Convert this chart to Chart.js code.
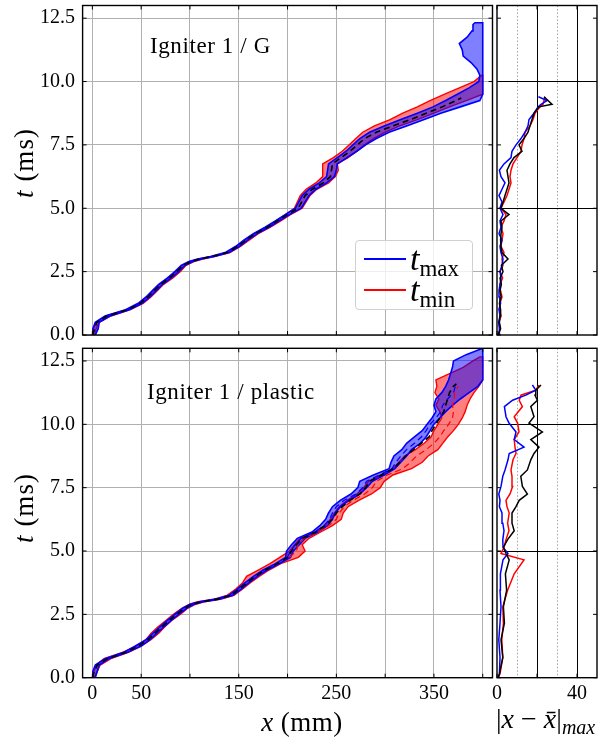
<!DOCTYPE html>
<html>
<head>
<meta charset="utf-8">
<script src="https://cdn.jsdelivr.net/npm/chart.js@4.4.1/dist/chart.umd.min.js"></script>
<style>
  body { margin: 0; background: #fff; }
  #fig { position: relative; width: 615px; height: 745px; overflow: hidden; font-family: "Liberation Serif", serif; color: #000; }
  #fig canvas { position: absolute; }
  .lbl { position: absolute; white-space: nowrap; }
  .note { font-size: 23px; line-height: 23px; letter-spacing: 0.6px; }
  .ylab { font-size: 27px; letter-spacing: 1px; transform: translate(-50%, -50%) rotate(-90deg); }
  .xlab { font-size: 27px; letter-spacing: 0.5px; transform: translate(-50%, -50%); }
  .devlab { font-size: 28px; transform: translate(0, -50%); }
  .devlab sub { font-size: 20px; font-style: italic; vertical-align: -6px; }
  .legend { position: absolute; left: 355px; top: 240px; width: 116px; height: 68px;
            border: 1px solid #d0d0d0; border-radius: 4px; background: rgba(255,255,255,0.8); }
  .legend .sw { position: absolute; left: 8px; width: 42px; height: 2px; }
  .legend .tx { position: absolute; left: 54px; font-size: 34px; line-height: 34px; }
  .legend .tx sub { font-size: 23px; font-style: normal; vertical-align: -6px; }
</style>
</head>
<body>
<div id="fig">
  <canvas id="gPath" width="495" height="340" style="left:0;top:0"></canvas>
  <canvas id="gDev" width="130" height="340" style="left:485px;top:0"></canvas>
  <canvas id="pPath" width="495" height="405" style="left:0;top:340px"></canvas>
  <canvas id="pDev" width="130" height="405" style="left:485px;top:340px"></canvas>

  <div class="lbl note" style="left:150px;top:34px">Igniter 1 / G</div>
  <div class="lbl note" style="left:147px;top:380px">Igniter 1 / plastic</div>
  <div class="lbl ylab" style="left:24px;top:163px"><i>t</i> (ms)</div>
  <div class="lbl ylab" style="left:24px;top:508px"><i>t</i> (ms)</div>
  <div class="lbl xlab" style="left:302px;top:722px"><i>x</i> (mm)</div>
  <div class="lbl devlab" style="left:496px;top:721px">|<i>x</i> − <i>x̄</i>|<sub>max</sub></div>

  <div class="legend">
    <div class="sw" style="top:17px;background:blue"></div>
    <div class="tx" style="top:1px"><i>t</i><sub>max</sub></div>
    <div class="sw" style="top:48px;background:red"></div>
    <div class="tx" style="top:32px"><i>t</i><sub>min</sub></div>
  </div>
</div>

<script>
// axis ticks
const yTicks = [0, 2.5, 5, 7.5, 10, 12.5];
const xGrid = [0, 50, 100, 150, 200, 250, 300, 350, 400];
const xLabelled = [0, 50, 150, 250, 350];
const devGrid = [0, 20, 40];
const devMinor = [10, 30];
const devLabelled = [0, 40];

// Igniter 1 / G : mean front position x(t), t in ms, x in mm
const gTime = [0, 0.25, 0.5, 0.75, 1, 1.25, 1.5, 1.75, 2, 2.25, 2.5, 2.75, 2.9, 3, 3.1, 3.25, 3.5, 3.75, 4, 4.25, 4.5, 4.75,
  5, 5.25, 5.5, 5.75, 6, 6.25, 6.5, 6.75, 7, 7.25, 7.5, 7.75, 8, 8.25, 8.5, 8.75, 9, 9.25, 9.35];
const gMean = [0, 2.5, 4.5, 15, 36, 49, 57, 63.5, 70, 79, 86.5, 93, 101, 110, 123, 138, 149, 157.5, 167, 179, 189.5, 199.5,
  211, 214.5, 218, 225.5, 236.5, 244, 245, 246, 255, 264, 271.5, 279, 291, 308, 326, 342, 358.5, 372.5, 378];

// t_max envelope
const gBlueTime = [0, 0.25, 0.5, 0.75, 1, 1.25, 1.5, 1.75, 2, 2.25, 2.5, 2.75, 2.9, 3, 3.1, 3.25, 3.5, 3.75, 4, 4.25, 4.5, 4.75,
  5, 5.25, 5.5, 5.75, 6, 6.25, 6.5, 6.75, 7, 7.25, 7.5, 7.75, 8, 8.25, 8.5, 8.75, 9, 9.25, 9.5, 9.75,
  10, 10.25, 10.5, 10.75, 11, 11.25, 11.5, 11.75, 12, 12.25, 12.32];
const gBlueLo = [0, 0.5, 3, 13, 34, 47, 55, 61.5, 68, 77, 84.5, 91, 99, 108, 121, 136, 147, 155.5, 165, 177, 187.5, 197.5,
  208, 211.5, 215, 222, 232.5, 240, 241, 242, 251, 260, 267, 274, 284, 299, 316, 333, 349, 362, 374, 386,
  396, 397, 394, 388, 380, 379, 376, 384, 389, 390, 392];
const gBlueHi = [3, 6, 7, 18, 38, 51, 59, 65.5, 72, 81, 88.5, 95, 103, 112, 125, 140, 151, 159.5, 169, 181, 191.5, 202,
  214, 218, 222, 229, 240, 248, 250, 251, 261, 271, 280, 291, 304, 322, 340, 357, 377, 397, 400, 400,
  400, 400, 400, 400, 400, 400, 400, 400, 400, 400, 400];

// t_min envelope
const gRedTime = [0, 0.25, 0.5, 0.75, 1, 1.25, 1.5, 1.75, 2, 2.25, 2.5, 2.75, 2.9, 3, 3.1, 3.25, 3.5, 3.75, 4, 4.25, 4.5, 4.75,
  5, 5.25, 5.5, 5.75, 6, 6.25, 6.5, 6.75, 7, 7.25, 7.5, 7.75, 8, 8.25, 8.5, 8.75, 9, 9.25, 9.5, 9.75, 10, 10.25];
const gRedLo = [0, 1, 4, 14, 35, 48, 56, 62.5, 69, 78, 85.5, 92, 100, 109, 122, 137, 148, 156.5, 166, 178, 188.5, 198,
  207, 210, 213, 219, 229, 236, 236, 236, 247, 256, 263, 270, 277, 289, 305, 318, 333, 346, 361, 376, 391, 399];
const gRedHi = [2, 4, 7, 19, 39, 52, 60, 66.5, 73, 82.5, 90, 96, 104, 113, 126, 141, 152, 161, 170, 182, 193, 203,
  215, 219, 223, 230, 242, 249, 252, 251, 262, 271, 279, 288, 300, 315, 333, 350, 366, 383, 400, 400, 400, 400];

// Igniter 1 / G : largest deviation from the mean
const gDevTime = [0, 0.25, 0.5, 0.75, 1, 1.25, 1.5, 1.75, 2, 2.25, 2.5, 2.75, 3, 3.25, 3.5, 3.75, 4, 4.25, 4.5, 4.75,
  5, 5.25, 5.5, 5.75, 6, 6.25, 6.5, 6.75, 7, 7.25, 7.5, 7.75, 8, 8.25, 8.5, 8.75, 9, 9.1, 9.25, 9.4];
const gDevMean = [0.5, 1.8, 1.2, 1.5, 1.8, 1.2, 2.0, 1.5, 2.2, 1.5, 3.0, 2.2, 5.5, 2.5, 2.0, 1.8, 2.0, 2.5, 2.0, 6.0,
  2.0, 3.0, 4.0, 5.0, 6.0, 5.5, 5.0, 6.5, 8.5, 12.5, 11.0, 13.5, 15.5, 16.5, 17.5, 18.5, 21.0, 27.5, 25.5, 23.5];
const gDevMax = [1.0, 1.2, 0.8, 1.5, 1.0, 1.8, 1.2, 1.0, 1.5, 2.0, 1.5, 2.5, 3.0, 2.0, 1.5, 2.5, 1.0, 2.0, 1.5, 3.0,
  1.5, 2.5, 1.0, 2.5, 4.0, 2.0, 1.2, 3.5, 7.0, 7.5, 9.5, 12.0, 14.0, 15.5, 16.0, 18.5, 20.5, 22.0, 25.0, 20.7];
const gDevMin = [0.5, 1.5, 1.0, 2.0, 1.2, 1.5, 2.5, 1.8, 1.5, 2.8, 1.5, 3.0, 2.5, 3.5, 2.0, 2.5, 3.0, 2.0, 3.5, 4.5,
  2.0, 3.5, 5.0, 6.0, 7.0, 6.5, 7.0, 8.0, 10.0, 12.0, 12.5, 13.5, 14.0, 16.5, 18.0, 19.0, 21.5, 23.0, 23.5, 24.0];

// Igniter 1 / plastic : mean front position
const pTime = [0, 0.25, 0.5, 0.75, 1, 1.25, 1.5, 1.75, 2, 2.25, 2.5, 2.75, 2.9, 3, 3.1, 3.25, 3.5, 3.75, 4, 4.25, 4.5, 4.75,
  5, 5.25, 5.5, 5.75, 6, 6.25, 6.5, 6.75, 7, 7.25, 7.5, 7.75, 8, 8.25, 8.5, 8.75, 9, 9.25, 9.5, 9.75,
  10, 10.25, 10.5, 10.75, 11, 11.25, 11.5, 11.6];
const pMean = [0, 2, 5, 15, 34, 47, 57, 64, 71, 78.5, 86.5, 95, 102, 112, 128, 142, 150.5, 158.5, 167, 177, 189.5, 200,
  204, 209, 215, 229, 238, 246, 250, 256, 264, 274, 280, 284, 296, 308, 315, 321, 329, 337, 345, 348,
  352, 356, 360, 362, 364, 366, 370, 373];

// means of the t_max and t_min subsets
const pSubTime = [4.75, 5, 5.25, 5.5, 5.75, 6, 6.25, 6.5, 6.75, 7, 7.25, 7.5, 7.75, 8, 8.25, 8.5, 8.75, 9, 9.25, 9.5,
  9.75, 10, 10.25, 10.5, 10.75, 11, 11.25, 11.5];
const pBlueMean = [200, 203, 208, 214, 228, 237, 243, 246, 250, 258, 270, 277, 281, 294, 307, 311, 316, 322, 330, 337,
  342, 346, 352, 357, 359, 364, 370, 372];
const pRedMean = [202, 209, 211, 217, 231, 242, 250, 253, 258, 267, 279, 287, 291, 302, 318, 326, 332, 342, 350, 356,
  360, 365, 369, 370, 369, 371, 371, 375];

// t_max envelope
const pBlueTime = [0, 0.25, 0.5, 0.75, 1, 1.25, 1.5, 1.75, 2, 2.25, 2.5, 2.75, 2.9, 3, 3.1, 3.25, 3.5, 3.75, 4, 4.25, 4.5, 4.75,
  5, 5.25, 5.5, 5.75, 6, 6.25, 6.5, 6.75, 7, 7.25, 7.5, 7.75, 8, 8.25, 8.5, 8.75, 9, 9.25, 9.5, 9.75,
  10, 10.25, 10.5, 10.75, 11, 11.25, 11.5, 11.75, 12, 12.25, 12.5, 12.75, 13];
const pBlueLo = [0, 0.5, 3, 13, 32, 44, 55, 62, 69, 76.5, 84.5, 93, 100, 110, 126, 140, 148.5, 156.5, 165, 175, 187.5, 198,
  199, 204, 210, 225, 233, 239, 242, 246, 254, 265, 272, 274, 288, 304, 306, 309, 317, 322, 330, 338,
  343, 348, 352, 350, 352, 358, 362, 365, 367, 369, 370, 383, 400];
const pBlueHi = [3, 5, 7, 17, 36, 50, 59, 66, 73, 80.5, 88.5, 97, 104, 114, 130, 144, 152.5, 160.5, 169, 179, 191.5, 203,
  206, 212, 218, 231, 241, 246, 249, 254, 263, 274, 281, 287, 299, 310, 316, 322, 327, 336, 342, 346,
  350, 356, 362, 369, 377, 386, 395, 400, 400, 400, 400, 400, 400];

// t_min envelope
const pRedTime = [0, 0.25, 0.5, 0.75, 1, 1.25, 1.5, 1.75, 2, 2.25, 2.5, 2.75, 2.9, 3, 3.1, 3.25, 3.5, 3.75, 4, 4.25, 4.5, 4.75,
  5, 5.25, 5.5, 5.75, 6, 6.25, 6.5, 6.75, 7, 7.25, 7.5, 7.75, 8, 8.25, 8.5, 8.75, 9, 9.25, 9.5, 9.75,
  10, 10.25, 10.5, 10.75, 11, 11.25, 11.5, 11.75, 12, 12.25, 12.5, 12.66];
const pRedLo = [0, 1.5, 4, 12, 31, 45, 55, 60, 67, 75, 83, 92, 100, 108, 125, 138, 147, 154, 158, 170, 182, 192,
  202, 207, 213, 228, 238, 244, 248, 253, 261, 271, 278, 283, 296, 308, 314, 320, 331, 340, 347, 350,
  354, 358, 356, 352, 355, 351, 353, 352, 366, 380, 390, 397];
const pRedHi = [2, 5, 8, 19, 37, 50, 60, 68, 74, 81, 90, 98, 106, 115, 132, 145, 154, 162, 171, 181, 193, 211,
  218, 215, 222, 234, 246, 255, 257, 262, 273, 286, 295, 299, 308, 327, 338, 344, 354, 359, 364, 370,
  375, 379, 382, 384, 387, 391, 396, 400, 400, 400, 400, 400];

// Igniter 1 / plastic : largest deviation from the mean
const pDevTime = [0, 0.15, 0.8, 1.5, 2.15, 2.8, 3.45, 4.1, 4.65, 4.9, 5.15, 5.45, 5.8, 6.1, 6.5, 6.75, 7.0, 7.25,
  7.55, 7.95, 8.2, 8.6, 8.85, 9.1, 9.4, 9.7, 10.05, 10.3, 10.7, 10.95, 11.15, 11.35, 11.55];
const pDevMean = [0.5, 1.2, 2.9, 2.0, 3.7, 3.2, 4.8, 4.2, 6.1, 4.5, 3.2, 5.3, 8.6, 7.5, 7.5, 9.5, 11.1, 15.2,
  12.7, 11.9, 15.2, 16.9, 18.5, 21.0, 16.9, 22.7, 16.0, 18.5, 16.9, 20.2, 19.0, 19.4, 22.0];
const pDevMax = [0.5, 1.2, 1.5, 0.9, 1.5, 2.0, 1.5, 1.7, 3.0, 5.5, 3.0, 2.9, 3.5, 2.9, 2.5, 1.2, 1.5, 0.9,
  2.0, 2.9, 4.0, 5.5, 6.1, 13.5, 8.6, 9.5, 6.0, 4.5, 3.7, 7.8, 14.4, 19.4, 17.7];
const pDevMin = [0.5, 1.5, 2.9, 2.4, 3.2, 2.9, 5.3, 8.6, 13.5, 2.0, 3.5, 4.5, 6.0, 5.3, 6.1, 5.0, 4.5, 6.5,
  7.8, 7.5, 7.0, 8.0, 9.5, 9.0, 8.6, 11.0, 10.3, 8.6, 12.7, 11.1, 12.0, 19.4, 21.0];

const BLUE = 'rgb(0, 0, 255)';
const RED = 'rgb(255, 0, 0)';

Chart.defaults.font.family = '"Liberation Serif", serif';
Chart.defaults.font.size = 20;
Chart.defaults.color = '#000';

// x(t) curve as chart points
function curve(time, xs) {
  return time.map((t, i) => ({ x: xs[i], y: t }));
}

// closed outline of an envelope: low edge upwards, high edge back down
function envelope(time, lo, hi) {
  const pts = time.map((t, i) => ({ x: lo[i], y: t }));
  for (let i = time.length - 1; i >= 0; i--) pts.push({ x: hi[i], y: time[i] });
  return pts;
}

// black frame round the plot area with inward tick marks on all sides
const frame = {
  id: 'frame',
  afterDatasetsDraw(chart) {
    const { ctx, chartArea: a, scales } = chart;
    const len = 4;
    ctx.save();
    ctx.strokeStyle = '#000';
    ctx.lineWidth = 1;
    ctx.beginPath();
    scales.y.ticks.forEach(t => {
      const py = scales.y.getPixelForValue(t.value);
      ctx.moveTo(a.left, py); ctx.lineTo(a.left + len, py);
      ctx.moveTo(a.right, py); ctx.lineTo(a.right - len, py);
    });
    scales.x.ticks.forEach(t => {
      const px = scales.x.getPixelForValue(t.value);
      ctx.moveTo(px, a.top); ctx.lineTo(px, a.top + len);
      ctx.moveTo(px, a.bottom); ctx.lineTo(px, a.bottom - len);
    });
    ctx.stroke();
    ctx.lineWidth = 1.4;
    ctx.strokeRect(a.left, a.top, a.right - a.left, a.bottom - a.top);
    ctx.restore();
  }
};

function baseOptions(pad) {
  return {
    responsive: false,
    animation: false,
    events: [],
    layout: { padding: pad },
    plugins: { legend: { display: false }, tooltip: { enabled: false } },
    elements: { point: { radius: 0 }, line: { tension: 0 } }
  };
}

function pathOptions(showX, pad) {
  const o = baseOptions(pad);
  o.scales = {
    x: {
      type: 'linear', min: -10, max: 410,
      afterBuildTicks: s => { s.ticks = xGrid.map(v => ({ value: v })); },
      afterFit: s => { s.height = showX ? 67.3 : 0; s.paddingLeft = 0; s.paddingRight = 0; },
      grid: { color: '#b0b0b0', lineWidth: 1, drawTicks: false },
      border: { display: false },
      ticks: { display: showX, autoSkip: false, maxRotation: 0, padding: 4,
               callback: v => xLabelled.includes(v) ? String(v) : '' }
    },
    y: {
      type: 'linear', min: 0, max: 13,
      afterBuildTicks: s => { s.ticks = yTicks.map(v => ({ value: v })); },
      afterFit: s => { s.width = 82.6; s.paddingTop = 0; s.paddingBottom = 0; },
      grid: { color: '#b0b0b0', lineWidth: 1, drawTicks: false },
      border: { display: false },
      ticks: { padding: 7.5, callback: v => v.toFixed(1) }
    }
  };
  return o;
}

function devOptions(showX, pad) {
  const o = baseOptions(pad);
  o.scales = {
    x: {
      type: 'linear', min: 0, max: 50,
      afterBuildTicks: s => { s.ticks = devGrid.map(v => ({ value: v })); },
      afterFit: s => { s.height = showX ? 67.3 : 0; s.paddingLeft = 0; s.paddingRight = 0; },
      grid: { color: c => (c.tick && c.tick.value > 0 ? '#000' : 'rgba(0,0,0,0)'), lineWidth: 1, drawTicks: false },
      border: { display: false },
      ticks: { display: showX, autoSkip: false, maxRotation: 0, padding: 4,
               callback: v => devLabelled.includes(v) ? String(v) : '' }
    },
    x2: {
      type: 'linear', min: 0, max: 50, position: 'bottom',
      afterBuildTicks: s => { s.ticks = devMinor.map(v => ({ value: v })); },
      afterFit: s => { s.height = 0; s.paddingLeft = 0; s.paddingRight = 0; },
      grid: { color: '#8c8c8c', lineWidth: 0.8, drawTicks: false },
      border: { display: false, dash: [1.5, 2] },
      ticks: { display: false }
    },
    y: {
      type: 'linear', min: 0, max: 13,
      afterBuildTicks: s => { s.ticks = yTicks.map(v => ({ value: v })); },
      afterFit: s => { s.width = 0; s.paddingTop = 0; s.paddingBottom = 0; },
      grid: { color: c => (c.tick && c.tick.value > 0 && c.tick.value % 5 === 0 ? '#000' : 'rgba(0,0,0,0)'),
              lineWidth: 1, drawTicks: false },
      border: { display: false },
      ticks: { display: false }
    }
  };
  return o;
}

function meanLine(data, color, width) {
  return { data, borderColor: color, borderWidth: width, borderDash: [6, 4], fill: false };
}

function band(data, color, fillColor, width) {
  return { data, borderColor: color, borderWidth: width, backgroundColor: fillColor, fill: 'shape' };
}

// Igniter 1 / G
new Chart(document.getElementById('gPath'), {
  type: 'line',
  data: {
    datasets: [
      meanLine(curve(gTime, gMean), '#000', 1.6),
      band(envelope(gBlueTime, gBlueLo, gBlueHi), BLUE, 'rgba(0, 0, 255, 0.5)', 1.6),
      band(envelope(gRedTime, gRedLo, gRedHi), RED, 'rgba(255, 0, 0, 0.5)', 1.4)
    ]
  },
  options: pathOptions(false, { left: 0, right: 2.5, top: 5.5, bottom: 5 }),
  plugins: [frame]
});

new Chart(document.getElementById('gDev'), {
  type: 'line',
  data: {
    datasets: [
      { data: curve(gDevTime, gDevMean), borderColor: '#000', borderWidth: 1.5 },
      { data: curve(gDevTime, gDevMax), borderColor: BLUE, borderWidth: 1.5 },
      { data: curve(gDevTime, gDevMin), borderColor: RED, borderWidth: 1.5 }
    ]
  },
  options: devOptions(false, { left: 12, right: 18, top: 5.5, bottom: 5 }),
  plugins: [frame]
});

// Igniter 1 / plastic
new Chart(document.getElementById('pPath'), {
  type: 'line',
  data: {
    datasets: [
      meanLine(curve(pTime, pMean), '#000', 1.6),
      meanLine(curve(pSubTime, pBlueMean), BLUE, 1.2),
      meanLine(curve(pSubTime, pRedMean), RED, 1.2),
      band(envelope(pBlueTime, pBlueLo, pBlueHi), BLUE, 'rgba(0, 0, 255, 0.5)', 1.6),
      band(envelope(pRedTime, pRedLo, pRedHi), RED, 'rgba(255, 0, 0, 0.5)', 1.4)
    ]
  },
  options: pathOptions(true, { left: 0, right: 2.5, top: 8.3, bottom: 0 }),
  plugins: [frame]
});

new Chart(document.getElementById('pDev'), {
  type: 'line',
  data: {
    datasets: [
      { data: curve(pDevTime, pDevMean), borderColor: '#000', borderWidth: 1.5 },
      { data: curve(pDevTime, pDevMax), borderColor: BLUE, borderWidth: 1.5 },
      { data: curve(pDevTime, pDevMin), borderColor: RED, borderWidth: 1.5 }
    ]
  },
  options: devOptions(true, { left: 12, right: 18, top: 8.3, bottom: 0 }),
  plugins: [frame]
});
</script>
</body>
</html>
